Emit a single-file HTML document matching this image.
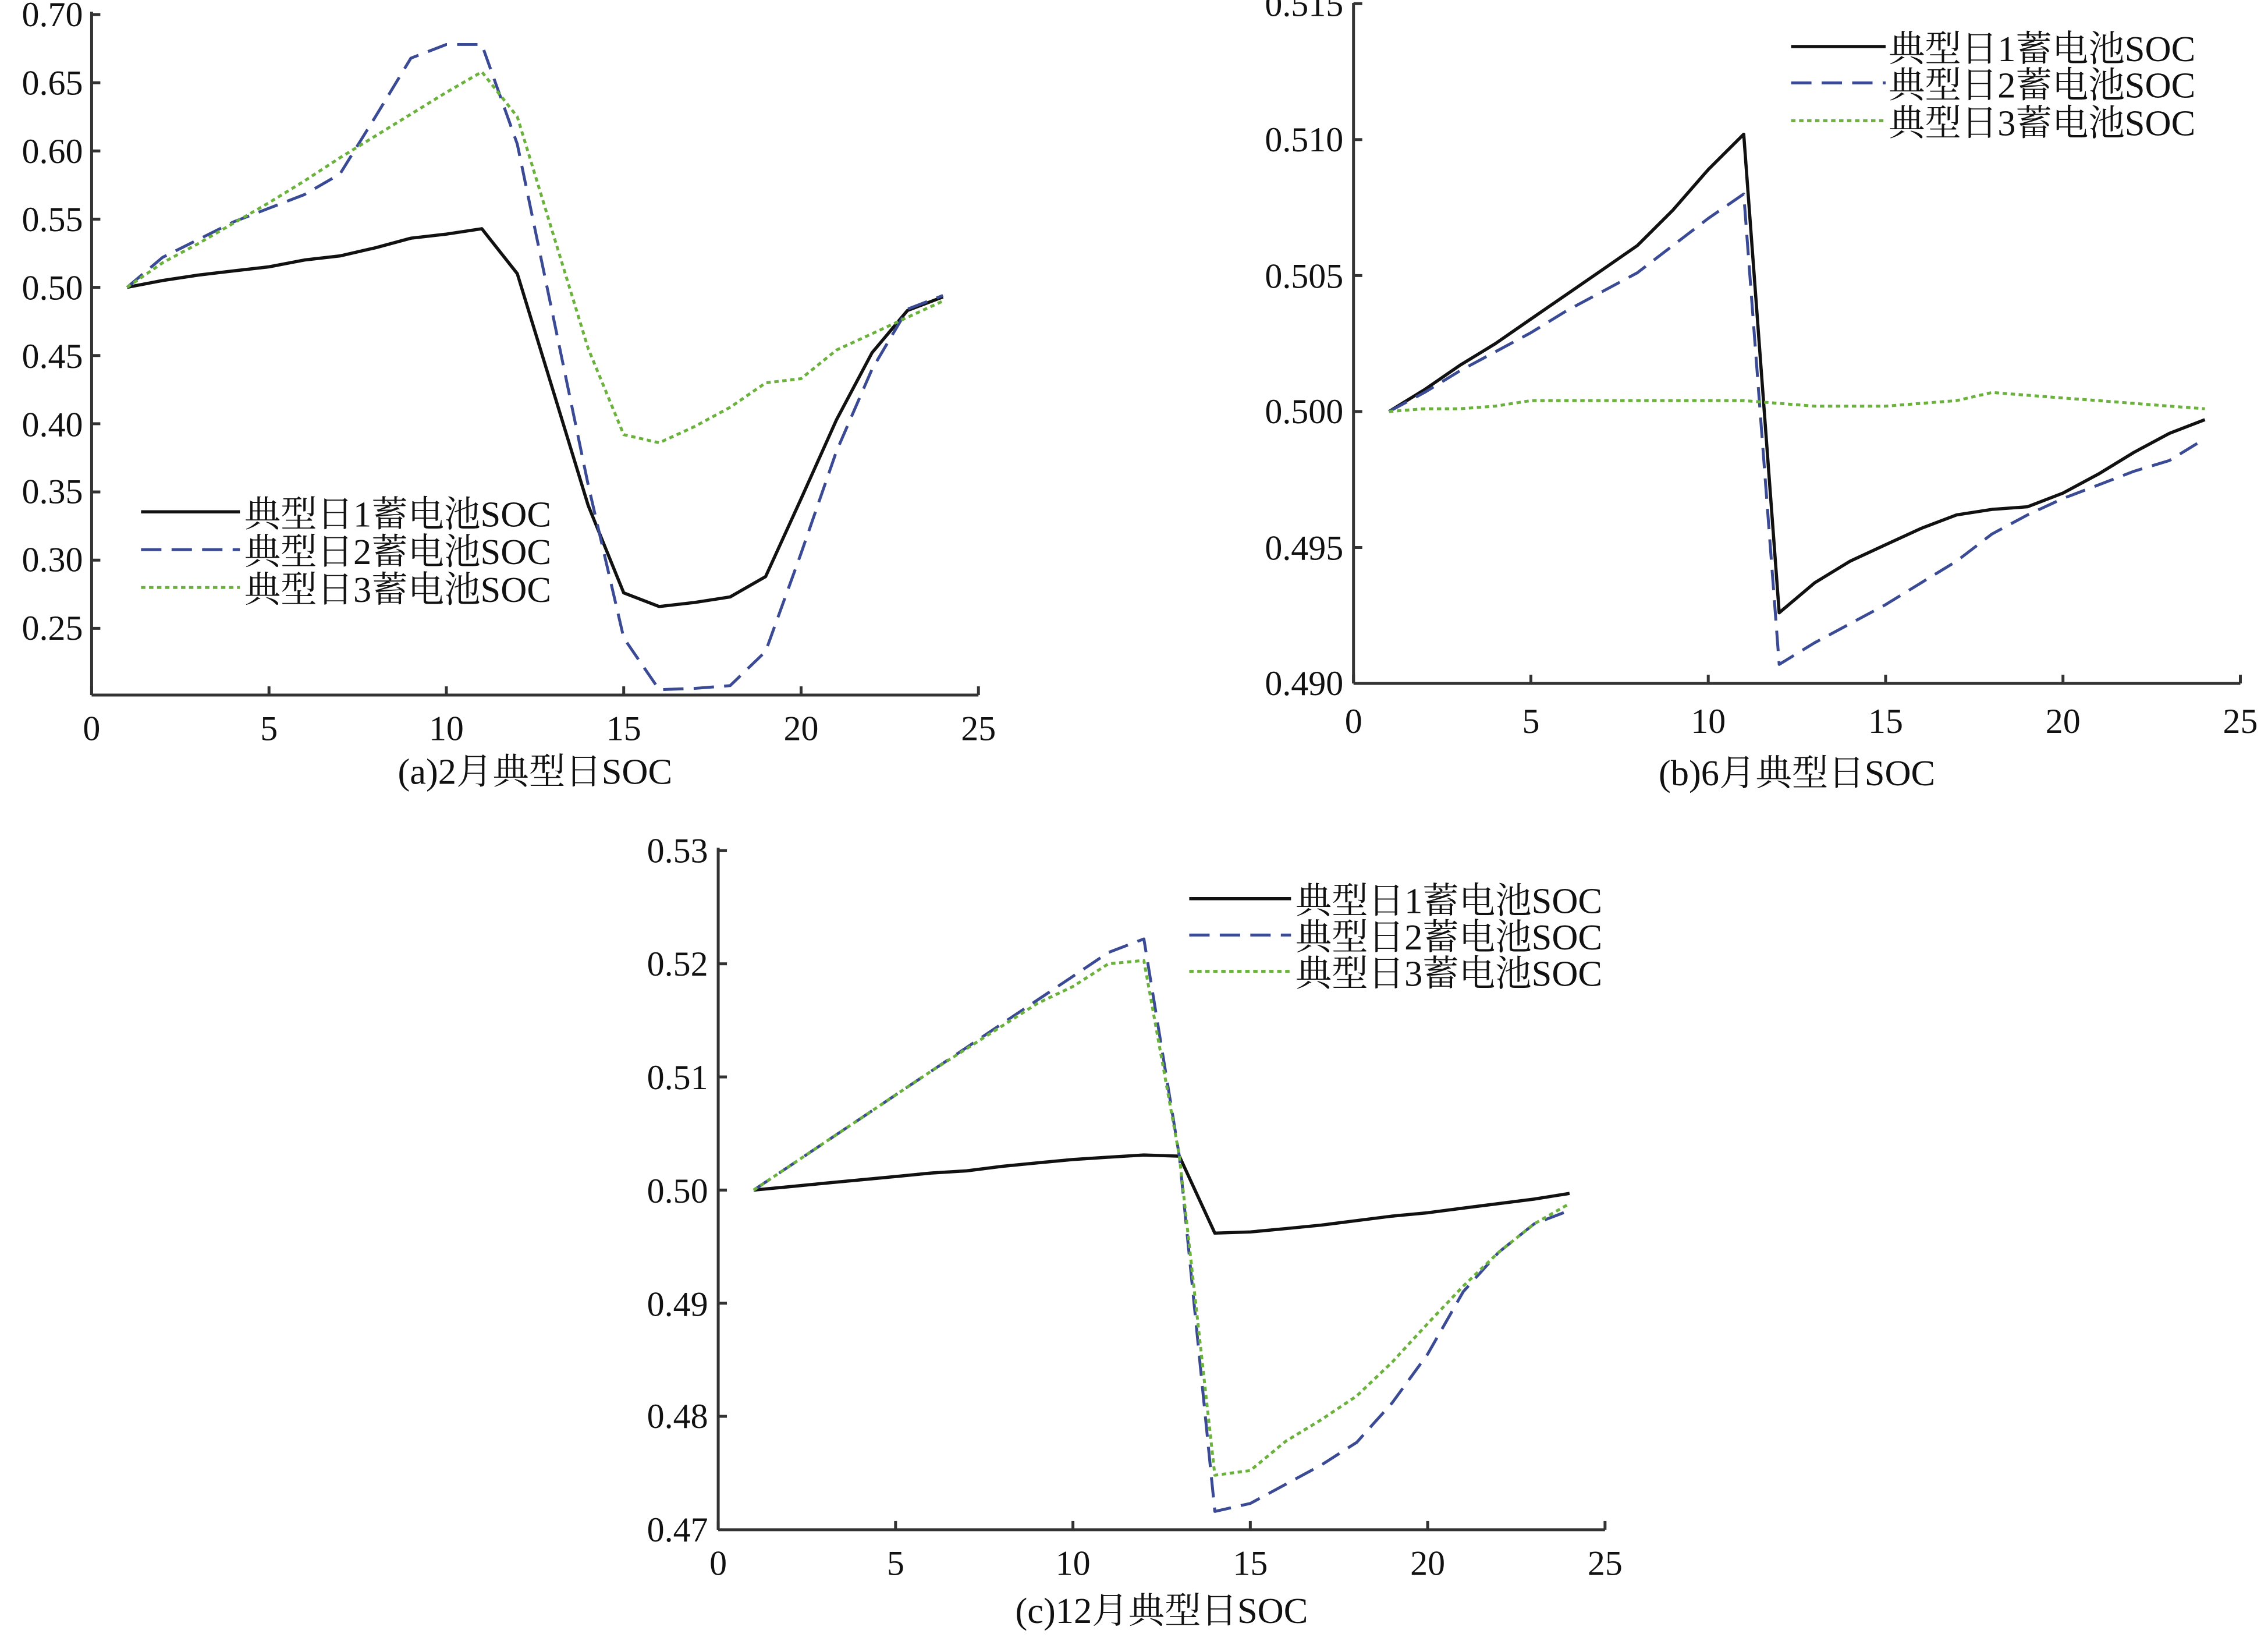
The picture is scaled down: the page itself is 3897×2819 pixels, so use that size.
<!DOCTYPE html>
<html><head><meta charset="utf-8"><style>
html,body{margin:0;padding:0;background:#fff;}
svg{display:block;}
text{font-family:"Liberation Serif","Noto Serif CJK SC",serif;fill:#111;}
.t{font-size:24px;}
.lg{font-size:25px;}
.cap{font-size:25px;}
</style></head><body>
<svg id="s" width="3897" height="2819" viewBox="0 0 1560 1128.5" xmlns="http://www.w3.org/2000/svg">
<g id="g"></g>
<g class="t" text-anchor="end">
<text x="57" y="18">0.70</text><text x="57" y="65">0.65</text><text x="57" y="112">0.60</text>
<text x="57" y="159">0.55</text><text x="57" y="206">0.50</text><text x="57" y="253">0.45</text>
<text x="57" y="300">0.40</text><text x="57" y="346">0.35</text><text x="57" y="393">0.30</text>
<text x="57" y="440">0.25</text>
</g>
<g class="t" text-anchor="middle">
<text x="63" y="509">0</text><text x="185" y="509">5</text><text x="307" y="509">10</text>
<text x="429" y="509">15</text><text x="551" y="509">20</text><text x="673" y="509">25</text>
</g>
<text class="cap" x="368" y="539" text-anchor="middle">(a)2月典型日SOC</text>
<g class="lg"><text x="168" y="362">典型日1蓄电池SOC</text><text x="168" y="388">典型日2蓄电池SOC</text><text x="168" y="414">典型日3蓄电池SOC</text></g>
<g class="t" text-anchor="end">
<text x="924" y="11">0.515</text><text x="924" y="104">0.510</text><text x="924" y="198">0.505</text>
<text x="924" y="291">0.500</text><text x="924" y="385">0.495</text><text x="924" y="478">0.490</text>
</g>
<g class="t" text-anchor="middle">
<text x="931" y="504">0</text><text x="1053" y="504">5</text><text x="1175" y="504">10</text>
<text x="1297" y="504">15</text><text x="1419" y="504">20</text><text x="1541" y="504">25</text>
</g>
<text class="cap" x="1236" y="540" text-anchor="middle">(b)6月典型日SOC</text>
<g class="lg"><text x="1299" y="42">典型日1蓄电池SOC</text><text x="1299" y="67">典型日2蓄电池SOC</text><text x="1299" y="93">典型日3蓄电池SOC</text></g>
<g class="t" text-anchor="end">
<text x="487" y="593">0.53</text><text x="487" y="671">0.52</text><text x="487" y="749">0.51</text>
<text x="487" y="827">0.50</text><text x="487" y="905">0.49</text><text x="487" y="982">0.48</text>
<text x="487" y="1060">0.47</text>
</g>
<g class="t" text-anchor="middle">
<text x="494" y="1083">0</text><text x="616" y="1083">5</text><text x="738" y="1083">10</text>
<text x="860" y="1083">15</text><text x="982" y="1083">20</text><text x="1104" y="1083">25</text>
</g>
<text class="cap" x="799" y="1116" text-anchor="middle">(c)12月典型日SOC</text>
<g class="lg"><text x="891" y="628">典型日1蓄电池SOC</text><text x="891" y="653">典型日2蓄电池SOC</text><text x="891" y="678">典型日3蓄电池SOC</text></g>
</svg>
<script>
var NS="http://www.w3.org/2000/svg",G=document.getElementById("g");
function el(n,a){var e=document.createElementNS(NS,n);for(var k in a)e.setAttribute(k,a[k]);G.appendChild(e);return e;}
var ST=[{stroke:"#111",w:2.2,d:""},{stroke:"#3a4a94",w:2,d:"14,7"},{stroke:"#6ab23c",w:2,d:"3,2.5"}];
function chart(c){
 el("line",{x1:c.x0,y1:c.ytop,x2:c.x0,y2:c.y0,stroke:"#333",'stroke-width':2});
 el("line",{x1:c.x0,y1:c.y0,x2:c.x0+610,y2:c.y0,stroke:"#333",'stroke-width':2});
 for(var i=0;i<=5;i++){var x=c.x0+i*122;el("line",{x1:x,y1:c.y0,x2:x,y2:c.y0-6,stroke:"#333",'stroke-width':2});}
 c.yt.forEach(function(v){var y=c.Y(v);el("line",{x1:c.x0,y1:y,x2:c.x0+6,y2:y,stroke:"#333",'stroke-width':2});});
 c.s.forEach(function(d,k){var p=d.map(function(v,i){return (c.x0+(i+1)*24.4).toFixed(1)+","+c.Y(v).toFixed(1);}).join(" ");
  var a={points:p,fill:"none",stroke:ST[k].stroke,'stroke-width':ST[k].w,'stroke-linejoin':"round"};if(ST[k].d)a['stroke-dasharray']=ST[k].d;el("polyline",a);
  var b={x1:c.lx[0],y1:c.ly[k],x2:c.lx[1],y2:c.ly[k],stroke:ST[k].stroke,'stroke-width':ST[k].w};if(ST[k].d)b['stroke-dasharray']=ST[k].d;el("line",b);});
}
chart({x0:63,y0:478,ytop:8,Y:function(v){return 10+(0.70-v)/0.05*46.9;},yt:[0.25,0.3,0.35,0.4,0.45,0.5,0.55,0.6,0.65,0.7],lx:[97,165],ly:[352,378,404],
 s:[[0.500,0.505,0.509,0.512,0.515,0.520,0.523,0.529,0.536,0.539,0.543,0.510,0.425,0.340,0.276,0.266,0.269,0.273,0.288,0.345,0.403,0.452,0.483,0.493],
 [0.500,0.522,0.535,0.548,0.558,0.568,0.583,0.625,0.668,0.678,0.678,0.605,0.480,0.355,0.243,0.205,0.206,0.208,0.233,0.305,0.380,0.440,0.484,0.494],
 [0.500,0.518,0.532,0.547,0.562,0.578,0.595,0.611,0.627,0.643,0.658,0.625,0.540,0.455,0.392,0.386,0.398,0.412,0.430,0.433,0.454,0.466,0.478,0.490]]});
chart({x0:931,y0:470,ytop:2,Y:function(v){return 96+(0.510-v)/0.005*93.5;},yt:[0.495,0.5,0.505,0.51,0.515],lx:[1232,1297],ly:[32,57,83],
 s:[[0.500,0.5008,0.5017,0.5025,0.5034,0.5043,0.5052,0.5061,0.5074,0.5089,0.5102,0.4926,0.4937,0.4945,0.4951,0.4957,0.4962,0.4964,0.4965,0.4970,0.4977,0.4985,0.4992,0.4997],
 [0.500,0.5007,0.5015,0.5022,0.5029,0.5037,0.5044,0.5051,0.5061,0.5071,0.5080,0.4907,0.4915,0.4922,0.4929,0.4937,0.4945,0.4955,0.4962,0.4968,0.4973,0.4978,0.4982,0.4990],
 [0.5000,0.5001,0.5001,0.5002,0.5004,0.5004,0.5004,0.5004,0.5004,0.5004,0.5004,0.5003,0.5002,0.5002,0.5002,0.5003,0.5004,0.5007,0.5006,0.5005,0.5004,0.5003,0.5002,0.5001]]});
chart({x0:494,y0:1052,ytop:583,Y:function(v){return 585+(0.53-v)/0.01*77.8;},yt:[0.48,0.49,0.5,0.51,0.52,0.53],lx:[818,888],ly:[618,643,668],
 s:[[0.5000,0.5003,0.5006,0.5009,0.5012,0.5015,0.5017,0.5021,0.5024,0.5027,0.5029,0.5031,0.5030,0.4962,0.4963,0.4966,0.4969,0.4973,0.4977,0.4980,0.4984,0.4988,0.4992,0.4997],
 [0.500,0.5021,0.5042,0.5063,0.5084,0.5105,0.5126,0.5147,0.5168,0.5189,0.5210,0.5222,0.503,0.4716,0.4723,0.4740,0.4757,0.4777,0.4812,0.4855,0.4910,0.4945,0.4970,0.4982],
 [0.500,0.5021,0.5042,0.5063,0.5084,0.5105,0.5125,0.5145,0.5165,0.5180,0.5200,0.5203,0.503,0.4748,0.4752,0.4778,0.4797,0.4818,0.4848,0.4882,0.4915,0.4945,0.4970,0.4988]]});
</script>
</body></html>
